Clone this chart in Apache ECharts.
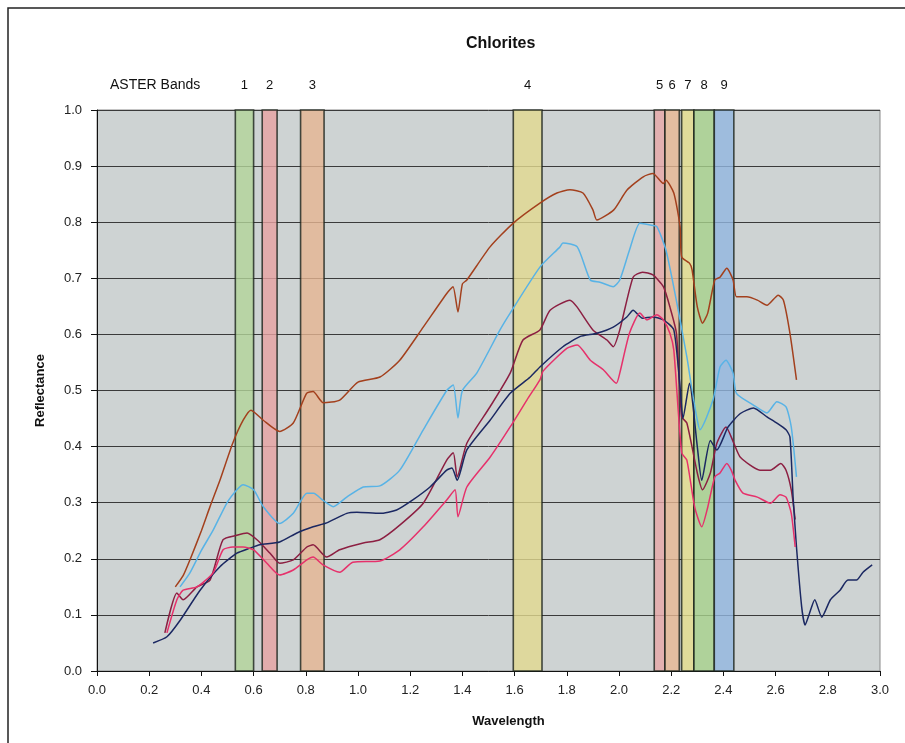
<!DOCTYPE html>
<html>
<head>
<meta charset="utf-8">
<script src="https://cdn.jsdelivr.net/npm/echarts@6/dist/echarts.min.js"></script>
<style>
  html, body { margin: 0; padding: 0; background: #fff; }
  #chart { width: 905px; height: 743px; }
</style>
</head>
<body>
<div id="chart"></div>
<script>
// ASTER band edges (µm) and fill colours
const bandNames = ['1', '2', '3', '4', '5', '6', '7', '8', '9']
const bandStart = [0.53, 0.633, 0.78, 1.595, 2.135, 2.176, 2.24, 2.287, 2.365]
const bandEnd = [0.60, 0.69, 0.87, 1.705, 2.176, 2.231, 2.287, 2.365, 2.44]
const bandColors = ['#b3d59a', '#e8a2a2', '#e6b592', '#e2da90', '#e8a8a8', '#e8b894', '#e6de8c', '#a8d28c', '#92b6e0']

// spectra: [wavelength, reflectance]
const brown = [
  [0.30, 0.15], [0.33, 0.17], [0.356, 0.198], [0.40, 0.25], [0.433, 0.293], [0.471, 0.34],
  [0.52, 0.406], [0.56, 0.447], [0.59, 0.465], [0.637, 0.447], [0.70, 0.427], [0.752, 0.442],
  [0.803, 0.495], [0.828, 0.498], [0.867, 0.478], [0.93, 0.483], [1.0, 0.515], [1.084, 0.524],
  [1.16, 0.554], [1.25, 0.613], [1.34, 0.673], [1.364, 0.685], [1.383, 0.64], [1.40, 0.69],
  [1.417, 0.697], [1.506, 0.756], [1.594, 0.798], [1.697, 0.834], [1.762, 0.852], [1.812, 0.858],
  [1.862, 0.852], [1.90, 0.822], [1.915, 0.804], [1.98, 0.822], [2.03, 0.857], [2.093, 0.881],
  [2.13, 0.887], [2.17, 0.869], [2.18, 0.875], [2.21, 0.852], [2.234, 0.792], [2.24, 0.738],
  [2.27, 0.727], [2.28, 0.715], [2.30, 0.649], [2.32, 0.62], [2.34, 0.638], [2.367, 0.697],
  [2.387, 0.702], [2.413, 0.718], [2.437, 0.697], [2.45, 0.667], [2.49, 0.667], [2.53, 0.661],
  [2.567, 0.652], [2.61, 0.67], [2.63, 0.661], [2.655, 0.602], [2.68, 0.519]
]
const lightBlue = [
  [0.318, 0.15], [0.356, 0.175], [0.40, 0.215], [0.445, 0.251], [0.497, 0.299], [0.536, 0.323],
  [0.56, 0.332], [0.60, 0.323], [0.637, 0.293], [0.70, 0.263], [0.752, 0.281], [0.804, 0.317],
  [0.83, 0.317], [0.866, 0.304], [0.905, 0.293], [0.957, 0.31], [1.02, 0.328], [1.084, 0.33],
  [1.16, 0.358], [1.25, 0.43], [1.34, 0.50], [1.365, 0.51], [1.383, 0.451], [1.40, 0.50],
  [1.455, 0.531], [1.544, 0.608], [1.583, 0.638], [1.697, 0.72], [1.774, 0.756], [1.785, 0.763],
  [1.84, 0.756], [1.89, 0.697], [1.927, 0.693], [1.978, 0.685], [2.003, 0.697], [2.04, 0.75],
  [2.08, 0.798], [2.12, 0.795], [2.145, 0.792], [2.18, 0.75], [2.22, 0.66], [2.26, 0.56],
  [2.28, 0.50], [2.30, 0.447], [2.31, 0.43], [2.36, 0.483], [2.387, 0.542], [2.41, 0.554],
  [2.437, 0.531], [2.45, 0.495], [2.515, 0.474], [2.567, 0.46], [2.605, 0.48], [2.64, 0.471],
  [2.66, 0.435], [2.68, 0.346]
]
const maroon = [
  [0.26, 0.068], [0.306, 0.139], [0.33, 0.127], [0.383, 0.15], [0.433, 0.162], [0.483, 0.234],
  [0.536, 0.242], [0.575, 0.246], [0.613, 0.234], [0.663, 0.21], [0.70, 0.192], [0.752, 0.198],
  [0.804, 0.221], [0.828, 0.225], [0.88, 0.203], [0.93, 0.216], [1.02, 0.228], [1.084, 0.234],
  [1.16, 0.26], [1.25, 0.299], [1.34, 0.376], [1.365, 0.389], [1.38, 0.346], [1.417, 0.406],
  [1.506, 0.471], [1.583, 0.531], [1.632, 0.59], [1.697, 0.608], [1.736, 0.643], [1.812, 0.661],
  [1.839, 0.649], [1.90, 0.608], [1.954, 0.59], [1.978, 0.578], [2.003, 0.608], [2.054, 0.702],
  [2.09, 0.711], [2.13, 0.706], [2.17, 0.685], [2.195, 0.649], [2.22, 0.602], [2.24, 0.453],
  [2.26, 0.442], [2.30, 0.353], [2.32, 0.323], [2.35, 0.353], [2.375, 0.406], [2.41, 0.435],
  [2.44, 0.406], [2.465, 0.381], [2.54, 0.358], [2.58, 0.358], [2.62, 0.37], [2.64, 0.358],
  [2.66, 0.323], [2.675, 0.27]
]
const navy = [
  [0.215, 0.05], [0.268, 0.061], [0.318, 0.09], [0.395, 0.144], [0.471, 0.186], [0.536, 0.21],
  [0.586, 0.219], [0.624, 0.225], [0.70, 0.23], [0.766, 0.246], [0.828, 0.257], [0.88, 0.264],
  [0.957, 0.281], [0.996, 0.283], [1.084, 0.281], [1.148, 0.287], [1.21, 0.305], [1.276, 0.328],
  [1.34, 0.358], [1.36, 0.362], [1.38, 0.34], [1.417, 0.394], [1.506, 0.447], [1.583, 0.495],
  [1.66, 0.524], [1.697, 0.542], [1.785, 0.578], [1.85, 0.596], [1.915, 0.602], [1.978, 0.613],
  [2.03, 0.631], [2.054, 0.643], [2.09, 0.629], [2.13, 0.631], [2.17, 0.626], [2.21, 0.608],
  [2.235, 0.50], [2.245, 0.45], [2.27, 0.513], [2.30, 0.40], [2.317, 0.34], [2.35, 0.411],
  [2.375, 0.394], [2.418, 0.435], [2.465, 0.459], [2.515, 0.469], [2.567, 0.453], [2.605, 0.442],
  [2.64, 0.43], [2.655, 0.417], [2.667, 0.31], [2.68, 0.221], [2.70, 0.114], [2.713, 0.082],
  [2.73, 0.103], [2.75, 0.127], [2.777, 0.096], [2.81, 0.127], [2.847, 0.144], [2.877, 0.162],
  [2.91, 0.162], [2.935, 0.176], [2.97, 0.189]
]
const pink = [
  [0.268, 0.068], [0.306, 0.127], [0.33, 0.144], [0.383, 0.15], [0.445, 0.175], [0.483, 0.216],
  [0.52, 0.221], [0.56, 0.221], [0.60, 0.216], [0.651, 0.192], [0.70, 0.171], [0.752, 0.18],
  [0.804, 0.198], [0.828, 0.203], [0.866, 0.189], [0.93, 0.176], [0.98, 0.194], [1.084, 0.196],
  [1.16, 0.216], [1.25, 0.257], [1.34, 0.305], [1.372, 0.323], [1.383, 0.275], [1.417, 0.328],
  [1.506, 0.381], [1.583, 0.435], [1.647, 0.483], [1.697, 0.519], [1.71, 0.535], [1.80, 0.575],
  [1.84, 0.581], [1.89, 0.554], [1.94, 0.537], [1.99, 0.513], [2.003, 0.531], [2.04, 0.602],
  [2.08, 0.638], [2.107, 0.626], [2.145, 0.635], [2.17, 0.626], [2.195, 0.602], [2.21, 0.572],
  [2.24, 0.389], [2.26, 0.376], [2.29, 0.292], [2.317, 0.257], [2.34, 0.292], [2.367, 0.346],
  [2.387, 0.353], [2.413, 0.37], [2.43, 0.358], [2.445, 0.34], [2.475, 0.317], [2.53, 0.31],
  [2.58, 0.299], [2.617, 0.314], [2.64, 0.31], [2.66, 0.281], [2.675, 0.221]
]

const spectra = [
  { name: 'brown', data: brown, color: '#a3401d' },
  { name: 'lightBlue', data: lightBlue, color: '#58b3e6' },
  { name: 'maroon', data: maroon, color: '#8c1f42' },
  { name: 'navy', data: navy, color: '#1b2862' },
  { name: 'pink', data: pink, color: '#e6316b' }
]

const FONT = 'Liberation Sans, Arial, sans-serif'

const bandAreas = bandNames.map((name, i) => [
  { name: name, xAxis: bandStart[i], itemStyle: { color: bandColors[i] } },
  { xAxis: bandEnd[i] }
])

const chart = echarts.init(document.getElementById('chart'))

const option = {
  animation: false,
  backgroundColor: '#fff',
  textStyle: { fontFamily: FONT },
  grid: {
    left: 97, right: 25, top: 110, bottom: 72,
    show: true,
    backgroundColor: '#ced3d3',
    borderColor: '#8a8a8a',
    borderWidth: 1
  },
  graphic: [
    {
      type: 'rect',
      shape: { x: 8, y: 8, width: 905, height: 745 },
      style: { fill: 'none', stroke: '#222', lineWidth: 1.5 },
      silent: true
    },
    {
      type: 'text', left: 110, top: 78,
      style: { text: 'ASTER Bands', font: '14px ' + FONT, fill: '#111' }
    },
    {
      type: 'text', left: 466, top: 36,
      style: { text: 'Chlorites', font: 'bold 16px ' + FONT, fill: '#111' }
    }
  ],
  xAxis: {
    type: 'value',
    min: 0, max: 3, interval: 0.2,
    name: 'Wavelength',
    nameLocation: 'middle',
    nameGap: 44,
    nameTextStyle: { fontWeight: 'bold', fontSize: 13, color: '#111', padding: [0, 0, 0, 40] },
    axisLine: { lineStyle: { color: '#111', width: 1 } },
    axisTick: { show: true, length: 5, lineStyle: { color: '#111' } },
    axisLabel: { color: '#222', fontSize: 13, margin: 13, formatter: v => v.toFixed(1) },
    splitLine: { show: false }
  },
  yAxis: {
    type: 'value',
    min: 0, max: 1, interval: 0.1,
    name: 'Reflectance',
    nameLocation: 'middle',
    nameGap: 50,
    nameTextStyle: { fontWeight: 'bold', fontSize: 13, color: '#111' },
    axisLine: { show: true, lineStyle: { color: '#111', width: 1 } },
    axisTick: { show: true, length: 6, lineStyle: { color: '#111' } },
    axisLabel: { color: '#222', fontSize: 13, margin: 15, formatter: v => v.toFixed(1) },
    splitLine: { show: true, lineStyle: { color: '#3a3a3a', width: 1 } }
  },
  series: [
    {
      name: 'bands',
      type: 'line',
      data: [],
      z: 1,
      silent: true,
      markArea: {
        silent: true,
        itemStyle: { opacity: 0.8, borderColor: '#1a221a', borderWidth: 1.6 },
        label: {
          show: true,
          position: 'top',
          distance: 17,
          color: '#111',
          fontSize: 13,
          fontFamily: FONT
        },
        data: bandAreas
      }
    }
  ].concat(spectra.map(s => ({
    name: s.name,
    type: 'line',
    data: s.data,
    z: 3,
    showSymbol: false,
    smooth: 0.2,
    lineStyle: { color: s.color, width: 1.5 },
    itemStyle: { color: s.color }
  })))
}

chart.setOption(option)
</script>
</body>
</html>
